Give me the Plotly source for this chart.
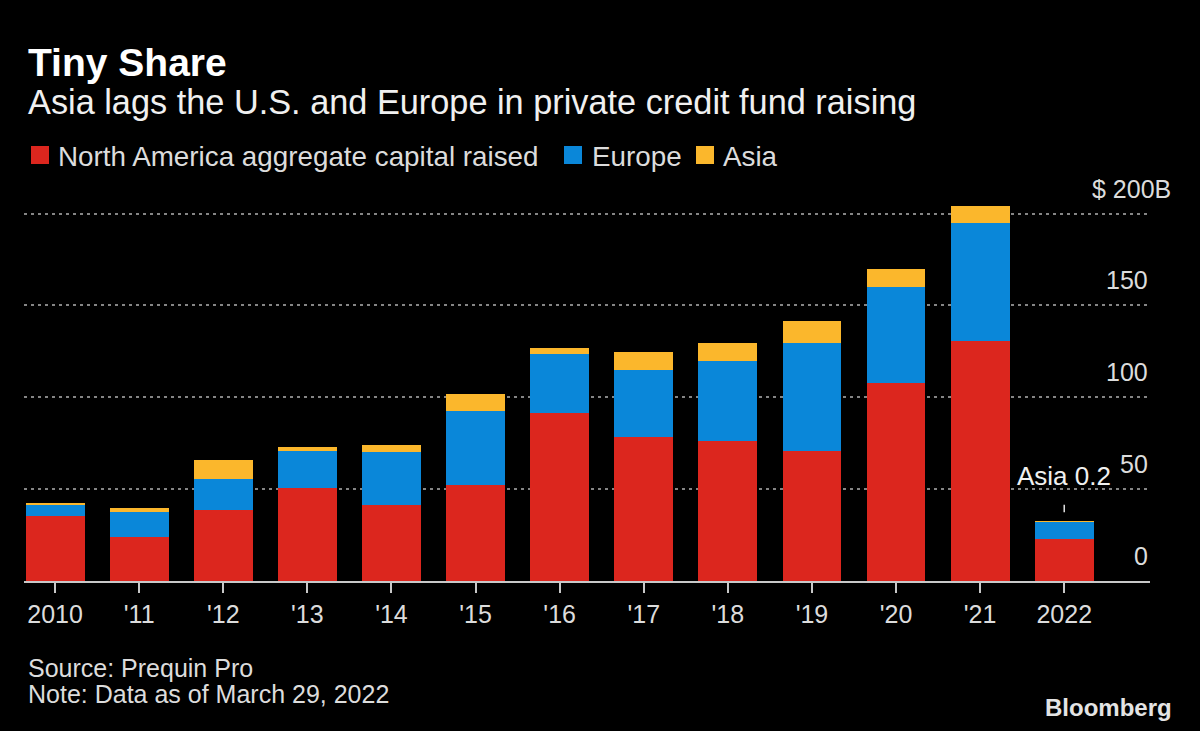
import plotly.graph_objects as go

# ---------------- data ----------------
years = ["2010", "'11", "'12", "'13", "'14", "'15", "'16", "'17", "'18", "'19", "'20", "'21", "2022"]
north_america = [35.5, 24.2, 38.4, 50.4, 41.5, 52.4, 91.5, 78.4, 76.4, 70.5, 107.9, 130.5, 23.0]
europe = [5.9, 13.3, 17.2, 20.3, 28.5, 40.2, 32.3, 36.2, 43.1, 59.2, 51.9, 64.3, 9.3]
asia = [1.1, 2.0, 10.0, 2.0, 3.8, 9.0, 2.8, 9.9, 10.2, 12.0, 10.0, 9.1, 0.2]
y_ticks = [0, 50, 100, 150, 200]
y_tick_text = ["0", "50", "100", "150", "$ 200B"]

series_names = ["North America aggregate capital raised", "Europe", "Asia"]
RED, BLUE, YELLOW = "#dc261e", "#0a87d9", "#fbb72c"
colors = [RED, BLUE, YELLOW]

# ---------------- layout geometry ----------------
W, H = 1200, 731
ML, MR, MT, MB = 24, 50, 186, 150
PW, PH = W - ML - MR, H - MT - MB
FONT = "Liberation Sans"
TXT = "#dcdcdc"


def px_x(p):
    return (p - ML) / PW


def px_y(p):
    return (H - MB - p) / PH


fig = go.Figure()
for name, vals, col in zip(series_names, [north_america, europe, asia], colors):
    fig.add_trace(go.Bar(x=list(range(len(years))), y=vals, name=name,
                         marker=dict(color=col, line=dict(width=0)), showlegend=False))

annotations = []
# titles
annotations.append(dict(text="<b>Tiny Share</b>", x=px_x(26), y=px_y(62), xref="paper", yref="paper",
                        xanchor="left", yanchor="middle", showarrow=False,
                        font=dict(family=FONT, size=39, color="#ffffff")))
annotations.append(dict(text="Asia lags the U.S. and Europe in private credit fund raising",
                        x=px_x(26), y=px_y(102), xref="paper", yref="paper",
                        xanchor="left", yanchor="middle", showarrow=False,
                        font=dict(family=FONT, size=34.3, color="#f0f0f0")))

# legend
leg_items = [(31, 58), (564, 592), (696, 723)]
shapes = []
for (sx, tx), name, col in zip(leg_items, series_names, colors):
    shapes.append(dict(type="rect", xref="paper", yref="paper",
                       x0=px_x(sx), x1=px_x(sx + 18), y0=px_y(146), y1=px_y(164),
                       fillcolor=col, line=dict(width=0), layer="above"))
    annotations.append(dict(text=name, x=px_x(tx - 2), y=px_y(156), xref="paper", yref="paper",
                            xanchor="left", yanchor="middle", showarrow=False,
                            font=dict(family=FONT, size=27.8, color=TXT)))

# y labels (above grid lines, right aligned)
for v, t in zip(y_ticks, y_tick_text):
    extra = 23 if t.endswith("B") else 0
    annotations.append(dict(text=t, x=1, y=v, xref="paper", yref="y", xanchor="right",
                            yanchor="middle", xshift=extra, yshift=25, showarrow=False,
                            font=dict(family=FONT, size=25, color=TXT)))

# Asia 2022 call-out
last_idx = len(years) - 1
last_total = north_america[-1] + europe[-1] + asia[-1]
annotations.append(dict(text="Asia " + str(asia[-1]), x=last_idx, y=last_total, xref="x", yref="y",
                        showarrow=True, arrowhead=0, arrowwidth=1.5, arrowcolor="#e0e0e0",
                        ax=0, ay=-45, standoff=9, startstandoff=12,
                        font=dict(family=FONT, size=26, color="#f0f0f0")))

# source / note
annotations.append(dict(text="Source: Prequin Pro", x=px_x(26), y=px_y(668), xref="paper", yref="paper",
                        xanchor="left", yanchor="middle", showarrow=False,
                        font=dict(family=FONT, size=25, color=TXT)))
annotations.append(dict(text="Note: Data as of March 29, 2022", x=px_x(26), y=px_y(694), xref="paper",
                        yref="paper", xanchor="left", yanchor="middle", showarrow=False,
                        font=dict(family=FONT, size=25, color=TXT)))
annotations.append(dict(text="<b>Bloomberg</b>", x=px_x(1174), y=px_y(707), xref="paper", yref="paper",
                        xanchor="right", yanchor="middle", showarrow=False,
                        font=dict(family=FONT, size=24, color="#e4e4e4")))

fig.update_layout(
    width=W, height=H,
    margin=dict(l=ML, r=MR, t=MT, b=MB, pad=0),
    paper_bgcolor="#000000", plot_bgcolor="#000000",
    barmode="stack", bargap=0.3,
    showlegend=False,
    annotations=annotations, shapes=shapes,
    xaxis=dict(range=[-0.37, 13.02], tickvals=list(range(len(years))), ticktext=years,
               showgrid=False, zeroline=False,
               showline=True, linecolor="#c8c8c8", linewidth=2,
               ticks="outside", ticklen=10, tickwidth=2, tickcolor="#c8c8c8",
               tickfont=dict(family=FONT, size=25, color=TXT), fixedrange=True),
    yaxis=dict(range=[0, 215], tickvals=y_ticks, showticklabels=False, showgrid=True,
               gridcolor="#858585", gridwidth=1.5, griddash="3px,4px", zeroline=False,
               showline=False, ticks="", fixedrange=True),
)

fig.write_html("out.html", config=dict(displayModeBar=False))
